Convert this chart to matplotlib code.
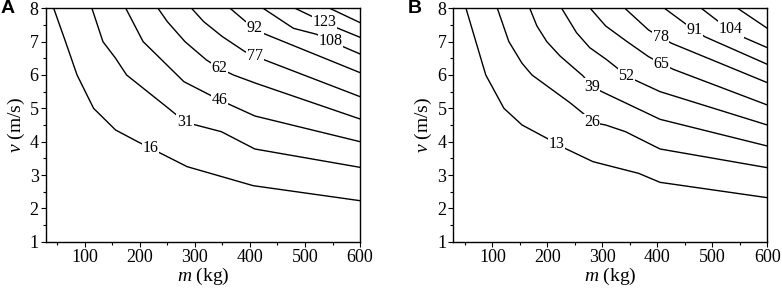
import matplotlib
matplotlib.use("Agg")
import matplotlib.pyplot as plt
import numpy as np
from matplotlib.ticker import MultipleLocator

plt.rcParams['font.family'] = ['Liberation Serif', 'DejaVu Serif']
plt.rcParams['mathtext.fontset'] = 'custom'
plt.rcParams['mathtext.rm'] = 'Liberation Serif'
plt.rcParams['mathtext.it'] = 'Liberation Serif:italic'

# ---------------- Panel A contour lines (m in kg, v in m/s) ----------------
a_levels = [16, 31, 46, 62, 77, 92, 108, 123, 138]
a_m = [
    [43.6, 65, 86, 116, 156, 196, 286, 406, 600],
    [113, 133, 156, 176, 252, 283, 348, 409, 600],
    [174.5, 206, 240, 280, 345, 409, 600],
    [233, 250, 282, 321, 345, 370, 411, 600],
    [294, 316, 350, 391, 411, 600],
    [364, 391, 409, 424, 600],
    [424, 479, 521, 548, 600],
    [482, 520, 536, 560, 600],
    [545, 600],
]
a_v = [
    [8.0, 7.0, 6.0, 5.0, 4.35, 4.0, 3.25, 2.68, 2.23],
    [8.0, 7.0, 6.5, 6.0, 5.0, 4.58, 4.3, 3.78, 3.23],
    [8.0, 7.0, 6.45, 5.8, 5.25, 4.77, 4.0],
    [8.0, 7.6, 7.0, 6.45, 6.2, 6.0, 5.75, 4.68],
    [8.0, 7.6, 7.15, 6.7, 6.55, 5.35],
    [8.0, 7.62, 7.42, 7.25, 6.07],
    [8.0, 7.4, 7.22, 7.0, 6.63],
    [8.0, 7.7, 7.58, 7.4, 7.13],
    [8.0, 7.57],
]
a_label_m = [220, 282, 345, 345, 409, 409, 546, 536, None]

# ---------------- Panel B contour lines ----------------
b_levels = [13, 26, 39, 52, 65, 78, 91, 104, 117]
b_m = [
    [52, 70, 88, 121, 154, 205, 232, 283, 366, 405, 600],
    [109, 130, 154, 172, 241, 265, 281, 306, 342, 405, 600],
    [168, 181, 199, 223, 265, 281, 299, 405, 600],
    [226, 253, 277, 307, 330, 344, 359, 405, 600],
    [278, 306, 345, 384, 406, 429, 600],
    [341, 384, 406, 426, 600],
    [413, 450, 468, 486, 600],
    [480, 510, 534, 558, 600],
    [546, 600],
]
b_v = [
    [8.0, 7.0, 6.0, 5.0, 4.5, 4.05, 3.8, 3.4, 3.05, 2.78, 2.32],
    [8.0, 7.0, 6.35, 6.0, 5.17, 4.85, 4.58, 4.5, 4.3, 3.78, 3.22],
    [8.0, 7.47, 7.0, 6.57, 5.97, 5.65, 5.5, 4.67, 3.87],
    [8.0, 7.27, 6.82, 6.47, 6.17, 5.97, 5.85, 5.5, 4.5],
    [8.0, 7.47, 7.0, 6.55, 6.35, 6.17, 5.1],
    [8.0, 7.35, 7.13, 6.95, 5.77],
    [8.0, 7.55, 7.35, 7.15, 6.32],
    [8.0, 7.62, 7.38, 7.12, 6.82],
    [8.0, 7.4],
]
b_label_m = [217, 281, 281, 344, 407, 406, 468, 534, None]

x_ticks = [100, 200, 300, 400, 500, 600]
y_ticks = [1, 2, 3, 4, 5, 6, 7, 8]

fig = plt.figure(figsize=(7.82, 2.94), dpi=100)
axA = fig.add_axes([0.0584, 0.1779, 0.4020, 0.7939])
axB = fig.add_axes([0.5797, 0.1779, 0.4015, 0.7939])


def draw(ax, levels, ms, vs, label_ms, tag):
    for lev, m, v, lm in zip(levels, ms, vs, label_ms):
        ax.plot(m, v, color='black', lw=1.0, solid_joinstyle='miter', zorder=2)
        if lm is not None:
            lv = np.interp(lm, m, v)
            ax.text(lm, lv, str(lev), ha='center', va='center', fontsize=11.5,
                    zorder=3,
                    bbox=dict(facecolor='white', edgecolor='none', pad=0.5))
    ax.set_xlim(29, 600)
    ax.set_ylim(1, 8)
    ax.set_xticks(x_ticks)
    ax.set_yticks(y_ticks)
    ax.xaxis.set_minor_locator(MultipleLocator(50))
    ax.yaxis.set_minor_locator(MultipleLocator(0.5))
    ax.tick_params(which='major', direction='out', length=3.5, width=0.8,
                   labelsize=13, pad=1.5)
    ax.tick_params(which='minor', direction='out', length=2.2, width=0.8)
    for s in ax.spines.values():
        s.set_linewidth(1.0)
    ax.set_xlabel('$m$ (kg)', fontsize=14, labelpad=0)
    ax.set_ylabel('$v$ (m/s)', fontsize=14, labelpad=2)
    ax.text(-0.145, 1.0, tag, transform=ax.transAxes, fontsize=14,
            fontweight='bold', family='Liberation Sans', ha='left', va='center')


draw(axA, a_levels, a_m, a_v, a_label_m, 'A')
draw(axB, b_levels, b_m, b_v, b_label_m, 'B')

fig.savefig('out.png', dpi=100)
